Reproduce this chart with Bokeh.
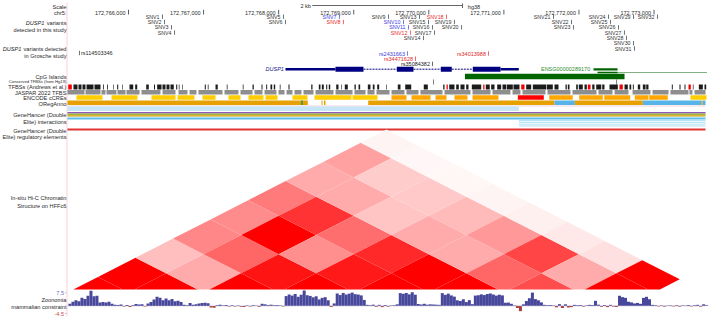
from bokeh.plotting import figure
from bokeh.models import Range1d
from bokeh.core.properties import value
from bokeh.embed import file_html
from bokeh.resources import INLINE

# ---------- data (genomic positions are bp offsets from 172,766,000 on chr5) ----------
CHR_ORIGIN = 172766000
TICK_POS = [172766000, 172767000, 172768000, 172769000, 172770000, 172771000, 172772000, 172773000]
TICK_LABELS = ["172,766,000", "172,767,000", "172,768,000", "172,769,000",
               "172,770,000", "172,771,000", "172,772,000", "172,773,000"]

SNV_NAMES = ["SNV1", "SNV2", "SNV3", "SNV4", "SNV5", "SNV6", "SNV7", "SNV8", "SNV9", "SNV10", "SNV11",
             "SNV12", "SNV13", "SNV14", "SNV15", "SNV16", "SNV17", "SNV18", "SNV19", "SNV20", "SNV21",
             "SNV22", "SNV23", "SNV24", "SNV25", "SNV26", "SNV27", "SNV28", "SNV29", "SNV30", "SNV31", "SNV32"]
SNV_POS = [453, 480, 573, 613, 2064, 2091, 2810, 2863, 3463, 3663, 3730,
           3756, 3876, 3929, 3996, 4049, 4076, 4236, 4342, 4436, 5661,
           5901, 5927, 6394, 6420, 6527, 6606, 6633, 6727, 6727, 6740, 7046]
SNV_ROW = [0, 1, 2, 3, 0, 1, 0, 1, 0, 1, 2,
           3, 0, 4, 1, 2, 3, 0, 1, 2, 0,
           1, 2, 0, 1, 2, 3, 4, 0, 5, 6, 0]
SNV_BLUE = ["SNV7", "SNV10", "SNV11"]
SNV_RED = ["SNV8", "SNV12", "SNV18"]

RS_NAMES = ["rs2431663", "rs34471628", "rs35084382", "rs34013988"]
RS_POS = [3716, 3823, 4049, 4795]
RS_ROW = [0, 1, 2, 0]
RS_COLORS = ["#3c3ce0", "#e02828", "#222222", "#e02828"]
RS_LEFT_NAME = "rs114503346"
RS_LEFT_POS = -653

GENE_UTR = [(2091, 2757), (4955, 5199)]
GENE_EXON = [(2757, 3130), (3574, 3796), (4160, 4306), (4586, 4955)]
GENE_INTRON = [(3130, 3574), (3796, 4160), (4306, 4586)]
ENSG_EXON = [(6194, 6514)]
ENSG_LOWER = [(6247, 6514)]
ENSG_INTRON = [(6514, 7699)]
CPG = [(4482, 6607)]
CONSERVED = [4063, 6501]

TFBS_BLACK = [(-733, -679), (-666, -626), (-613, -573), (-559, -466), (-453, -373), (-340, -329), (-284, -273),
              (-204, -196), (-151, -137), (-84, -76), (13, 63), (89, 116), (236, 270), (340, 353), (382, 440),
              (453, 493), (506, 546), (559, 603), (635, 649), (670, 679), (715, 723), (1016, 1030), (1056, 1066),
              (1159, 1189), (1309, 1319), (1522, 1532), (1652, 1669), (1772, 1785), (1834, 1847), (1891, 1914),
              (1935, 1954), (2015, 2025), (2131, 2145), (2434, 2451), (2535, 2557), (2575, 2601), (2633, 2647),
              (2668, 2687), (2767, 2797), (2833, 2841), (2881, 2921), (3010, 3028), (3064, 3086), (3188, 3223),
              (3254, 3277), (3313, 3339), (3433, 3441), (3587, 3623), (3686, 3766), (3933, 3987), (4192, 4209),
              (4272, 4342), (4365, 4400), (4422, 4476), (4498, 4529), (4573, 4698), (4759, 4812), (4831, 4875),
              (4911, 4964), (4982, 5031), (5039, 5119), (5128, 5208), (5297, 5364), (5386, 5564), (5572, 5652),
              (5674, 5728), (5821, 5838), (5852, 5874), (5963, 5985), (5998, 6051), (6074, 6105), (6177, 6207),
              (6230, 6297), (6310, 6340), (6407, 6518), (6607, 6651), (6673, 6696), (6718, 6731), (6784, 6816),
              (6851, 6887), (6896, 6926), (7237, 7250), (7339, 7353), (7406, 7419), (7517, 7526), (7597, 7650),
              (7672, 7695)]
TFBS_RED = [(-803, -755), (4236, 4253), (4725, 4742), (5231, 5275), (6118, 6154), (6540, 6584), (7459, 7490)]
JASPAR = [(-813, -586), (-573, -373), (-360, -306), (-293, -160), (-147, -40), (-27, 147), (173, 426), (453, 626),
          (666, 786), (813, 906), (932, 1252), (1279, 1465), (1492, 1652), (1678, 1785), (1812, 1971), (1998, 2078),
          (2105, 2184), (2211, 2304), (2331, 2464), (2491, 2731), (2757, 2984), (3010, 3157), (3183, 3277),
          (3303, 3477), (3503, 3676), (3703, 3863), (3889, 4182), (4209, 4555), (4582, 4822), (4848, 5088),
          (5115, 5221), (5248, 5554), (5581, 5887), (5914, 6234), (6260, 6447), (6474, 6660), (6714, 6953),
          (6980, 7193), (7219, 7459), (7472, 7512), (7539, 7686)]

CCRE_ENH_DIST = [(-693, -346), (-226, 120), (306, 626), (653, 879), (986, 1159), (1332, 1492), (1598, 1798),
                 (1825, 1985), (2184, 2384), (2478, 2970), (2984, 3317), (7486, 7699)]
CCRE_ENH_PROX = [(3503, 3703), (3770, 4023), (4089, 4236), (4342, 4515), (4582, 4928), (5604, 5918),
                 (6003, 6318), (6337, 6683), (6744, 6926), (6936, 7183)]
CCRE_PROM = [(5186, 5532)]

OREG_ORANGE = [(-813, 2388), (2571, 2585), (2604, 2624), (3193, 5674), (5945, 6851), (7628, 7648)]
OREG_BLUE = [(5674, 5945), (6851, 7628), (7648, 7686)]
OREG_GREEN = [(2300, 2322)]

# Hi-C contact intensity, 1 kb bins starting at 172,765,000 (upper triangle only)
HIC_BIN_START = 172765000
HIC_BIN = 1000
HIC = [
    [1.00, 1.00, 0.25, 0.47, 0.45, 0.52, 0.33, 0.37, 0.045],
    [None, 1.00, 0.33, 0.60, 1.00, 0.80, 0.33, 0.20, 0.03],
    [None, None, 1.00, 0.92, 0.44, 0.57, 0.23, 0.21, 0.035],
    [None, None, None, 1.00, 0.90, 0.84, 0.33, 0.27, 0.045],
    [None, None, None, None, 1.00, 1.00, 0.33, 0.40, 0.06],
    [None, None, None, None, None, 1.00, 0.60, 0.73, 0.09],
    [None, None, None, None, None, None, 0.70, 0.33, 0.12],
    [None, None, None, None, None, None, None, 1.00, 1.00],
]

# Zoonomia constraint score, 40 bp display bins
ZOO_START = -800
ZOO_BIN = 40
ZOO = [1.2, 2.4, 3.2, 2.6, 4.6, 3.9, 5.8, 8.7, 5.5, 5.8, 2.0, 2.3, 1.9, 2.4, 1.2, 0.6, 0.5, 0.8, -0.3, 0.5, -0.6,
       0.4, 1.1, 0.8, 1.0, -0.4, 1.4, 2.2, 3.6, 5.2, 4.6, 3.2, 4.2, 3.3, 4.0, 2.6, 2.9, 2.2, 0.7, 0.4, 1.6, 0.7,
       1.0, 1.4, 1.6, 1.8, 1.5, -0.9, -1.0, 0.4, 0.7, 0.3, 0.5, -0.3, 0.4, -0.3, 0.3, -0.5, -0.6, 0.3, -0.4, 0.4,
       0.2, -0.5, 1.2, 0.9, 0.5, 0.7, 0.4, 0.5, 0.3, -0.3, 5.6, 6.5, 5.9, 6.8, 5.2, 6.4, 8.8, 6.1, 5.7, 4.9, 5.5,
       3.7, 4.6, 5.0, 3.2, -0.6, 1.4, 7.1, 6.2, 7.4, 6.5, 7.0, 7.6, 6.7, 6.5, 6.0, 3.4, 0.6, 0.4, 0.7, -0.5, 0.6,
       -0.7, 0.5, -0.4, 0.3, 0.4, 0.9, 7.3, 6.9, 7.4, 6.6, 7.8, 6.4, 1.1, 0.8, 1.2, 0.7, 0.9, 0.8, 0.7, 0.6, 7.3,
       6.3, 7.0, 6.0, 5.3, 3.2, 2.8, 3.8, 2.2, 3.3, 1.0, 5.9, 6.1, 6.6, 6.2, 6.8, 7.1, 6.5, 5.9, 6.4, 6.0, 1.8,
       1.9, 1.2, 0.3, -1.2, -3.0, 0.9, 2.8, 4.4, 7.6, 3.9, 3.2, 2.0, 0.6, 0.4, 0.5, 0.3, -0.8, 1.0, -1.2, 0.9,
       -0.9, -0.7, 0.6, 0.4, 0.5, -0.4, 0.3, 0.6, 0.5, 2.9, 0.7, -0.5, 0.5, -0.7, 0.6, -0.4, -0.6, 5.8, 5.0, 4.6,
       2.4, 2.0, 1.4, 1.7, 1.2, 4.6, 5.2, 3.8, 0.6, 0.4, -0.3, 0.3, -0.4, 0.2, 0.3, -0.3, 0.4, -0.4, 0.3, 0.2, 0.5,
       -0.3, 0.4, 0.6, -0.4, 0.9, 0.4]

LEFT_LABELS = ["Scale", "chr5:", "detected in this study", "in Grosche study", "CpG Islands",
               "TFBSs (Andrews et al.)", "JASPAR 2022 TFBS", "ENCODE cCREs", "ORegAnno",
               "GeneHancer (Double", "Elite) interactions", "GeneHancer (Double", "Elite) regulatory elements",
               "In-situ Hi-C Chromatin", "Structure on HFFc6", "Zoonomia", "mammalian constraint"]

# ---------- layout ----------
W, H = 709, 317
BP_PER_PX = 13.32
X0 = CHR_ORIGIN - 128 * BP_PER_PX
X1 = X0 + W * BP_PER_PX
WIN_L, WIN_R = CHR_ORIGIN - 813, CHR_ORIGIN + 7686
FONT = value("Liberation Sans")


def px(v):
    """horizontal page position -> genome coordinate"""
    return X0 + v * BP_PER_PX


p = figure(width=W, height=H, x_range=Range1d(X0, X1), y_range=Range1d(317, 0),
           x_axis_type=None, y_axis_type=None, toolbar_location=None, output_backend="svg",
           min_border=0, outline_line_color=None, background_fill_color="white", border_fill_color="white")
p.grid.visible = False


def label(xs, ys, texts, align="left", size="5.5px", color="#2a2a2a", style="normal", offset=0):
    p.text(xs, ys, text=texts, text_align=align, text_baseline="middle", text_font=FONT,
           text_font_size=value(size), text_color=color, text_font_style=style, x_offset=offset)


def bars(intervals, top, bottom, color, alpha=1.0):
    p.quad(left=[CHR_ORIGIN + a for a, b in intervals], right=[CHR_ORIGIN + b for a, b in intervals],
           top=[top] * len(intervals), bottom=[bottom] * len(intervals),
           fill_color=color, fill_alpha=alpha, line_color=None)


# pink guide at the left of the tracks
p.segment([px(66.5)], [2], [px(66.5)], [316], line_color="#ffd0d4", line_width=1)

# scale row
p.segment([CHR_ORIGIN + 2449], [5], [CHR_ORIGIN + 4449], [5], line_color="#666666", line_width=1)
p.segment([CHR_ORIGIN + 4449], [3], [CHR_ORIGIN + 4449], [7.5], line_color="#666666", line_width=1)
label([CHR_ORIGIN + 2430], [5.2], ["2 kb"], align="right")
label([CHR_ORIGIN + 4520], [6], ["hg38"])

# coordinate ticks
label(TICK_POS, [12] * 8, TICK_LABELS, align="right", offset=-3)
p.segment(TICK_POS, [9.3] * 8, TICK_POS, [14] * 8, line_color="#333333", line_width=0.8)

# SNV rows
row_y = lambda r: 16.2 + 5.3 * r
for names, color in ((SNV_BLUE, "#3c3ce0"), (SNV_RED, "#e82828"),
                     ([n for n in SNV_NAMES if n not in SNV_BLUE + SNV_RED], "#333333")):
    idx = [SNV_NAMES.index(n) for n in names]
    xs = [CHR_ORIGIN + SNV_POS[i] for i in idx]
    ys = [row_y(SNV_ROW[i]) for i in idx]
    label(xs, ys, names, align="right", color=color, offset=-3, size="5.3px")
    p.segment(xs, [y - 2.2 for y in ys], xs, [y + 2.2 for y in ys], line_color=color, line_width=0.7)

# Grosche variants
for n, pos, r, c in zip(RS_NAMES, RS_POS, RS_ROW, RS_COLORS):
    y = 53 + 5.2 * r
    label([CHR_ORIGIN + pos], [y], [n], align="right", color=c, offset=-2.5)
    p.segment([CHR_ORIGIN + pos], [y - 2.2], [CHR_ORIGIN + pos], [y + 2.2], line_color=c, line_width=0.7)
label([CHR_ORIGIN + RS_LEFT_POS], [52.5], [RS_LEFT_NAME], offset=1.5)
p.segment([CHR_ORIGIN + RS_LEFT_POS], [50.3], [CHR_ORIGIN + RS_LEFT_POS], [54.7], line_color="#333333", line_width=0.7)

# DUSP1 gene
NAVY = "#000080"
p.segment([CHR_ORIGIN + a for a, b in GENE_INTRON], [68.7] * 3, [CHR_ORIGIN + b for a, b in GENE_INTRON], [68.7] * 3,
          line_color=NAVY, line_width=1, line_dash="2 1")
bars(GENE_UTR, 67.5, 70, NAVY)
bars(GENE_EXON, 66.2, 71.2, NAVY)
label([CHR_ORIGIN + 2070], [68.6], ["DUSP1"], align="right", color="#20208c", style="italic")

# ENSG transcript and CpG island
GREEN = "#006400"
bars(ENSG_EXON, 67.7, 70, GREEN)
label([CHR_ORIGIN + 6150], [68.6], ["ENSG00000289170"], align="right", color="#2e8b2e")
bars(ENSG_LOWER, 71.2, 72.8, GREEN)
p.segment([CHR_ORIGIN + ENSG_INTRON[0][0]], [72], [CHR_ORIGIN + ENSG_INTRON[0][1]], [72],
          line_color=GREEN, line_width=1, line_dash="1 1")
bars(CPG, 73.3, 78.7, GREEN)

# conserved TFBS marks
xs = [CHR_ORIGIN + c for c in CONSERVED]
p.segment(xs, [79] * 2, xs, [84] * 2, line_color="#444444", line_width=0.7)

# barcode style tracks
bars(TFBS_BLACK, 84, 89, "#1c1c1c")
bars(TFBS_RED, 84, 89, "#f00000")
bars(JASPAR, 89.5, 94, "#8e8e8e")
bars(CCRE_ENH_DIST, 94.7, 99.3, "#ffcd00")
bars(CCRE_ENH_PROX, 94.7, 99.3, "#ffa700")
bars(CCRE_PROM, 94.7, 99.3, "#ff0000")
bars(OREG_ORANGE, 100, 104.6, "#e6a000")
bars(OREG_BLUE, 100, 104.6, "#56b4e9")
bars(OREG_GREEN, 100, 104.6, "#2f9a5a")

# GeneHancer bands
win = [(WIN_L - CHR_ORIGIN, WIN_R - CHR_ORIGIN)]
bars(win, 105, 106, "#f0d4dc")
bars([(WIN_L - CHR_ORIGIN, 5199)], 106, 110.6, "#c4e6f8")
bars(win, 111.4, 113, "#8e5ab5")
bars(win, 113, 114.5, "#9ab548")
bars(win, 114.5, 116.3, "#e3b32a")
bars(win, 116.3, 117.2, "#b0e0f6")
bars(win, 117.2, 119, "#5cc0ee")
for y in (119.6, 121.4, 123.2, 125):
    bars([(5199, WIN_R - CHR_ORIGIN)], y, y + 1.1, "#b4e2f8")
bars(win, 128, 130, "#e03434")

# Hi-C triangle: each contact is a diamond between two 1 kb bins, clipped to the window
BASE_Y, Y_PER_KB, CLIP_Y = 292.0, 19.17, 289.0


def clip_bottom(pts):
    out = []
    for i, (x, y) in enumerate(pts):
        nx, ny = pts[(i + 1) % len(pts)]
        if y <= CLIP_Y:
            out.append((x, y))
        if (y <= CLIP_Y) != (ny <= CLIP_Y):
            t = (CLIP_Y - y) / (ny - y)
            out.append((x + t * (nx - x), CLIP_Y))
    return out


hx, hy, hc = [], [], []
for i, row in enumerate(HIC):
    for j, v in enumerate(row):
        if v is None:
            continue
        a0 = max(HIC_BIN_START + i * HIC_BIN, WIN_L)
        a1 = HIC_BIN_START + (i + 1) * HIC_BIN
        b0 = max(HIC_BIN_START + j * HIC_BIN, WIN_L)
        b1 = min(HIC_BIN_START + (j + 1) * HIC_BIN, WIN_R)
        corners = [(a0, b0), (a0, b1), (a1, b1), (a1, b0)]
        pts = clip_bottom([((g1 + g2) / 2, BASE_Y - Y_PER_KB * (g2 - g1) / 1000) for g1, g2 in corners])
        hx.append([q[0] for q in pts])
        hy.append([q[1] for q in pts])
        g = int(round(255 * (1 - v)))
        hc.append(f"#ff{g:02x}{g:02x}")
p.patches(hx, hy, fill_color=hc, line_color=None)

# Zoonomia wiggle
ZOO_BASE, ZOO_SCALE = 305.4, 1.75
zl = [CHR_ORIGIN + ZOO_START + i * ZOO_BIN for i in range(len(ZOO))]
zr = [v + ZOO_BIN for v in zl]
zt = [ZOO_BASE - max(v, 0) * ZOO_SCALE for v in ZOO]
zb = [ZOO_BASE - min(v, 0) * ZOO_SCALE for v in ZOO]
zc = ["#47479c" if v >= 0 else "#a83a3a" for v in ZOO]
p.quad(left=zl, right=zr, top=zt, bottom=zb, fill_color=zc, line_color=None)
p.segment([WIN_L], [ZOO_BASE], [WIN_R], [ZOO_BASE], line_color="#b0a0c0", line_width=0.5)

# left hand labels
LEFT_Y = [6.5, 12, 29, 55, 76.4, 86.7, 92, 97.3, 103, 114.3, 121.3, 130, 136.7, 197.7, 205, 299.5, 306]
LX = px(66)
label([LX] * len(LEFT_LABELS), LEFT_Y, LEFT_LABELS, align="right", size="5.65px")
label([LX], [80.8], ["Conserved TFBSs (from Hg19)"], align="right", size="4.2px")
label([LX], [22], ["variants"], align="right", size="5.65px")
label([px(44)], [22], ["DUSP1"], align="right", style="italic", size="5.65px")
label([LX], [48], ["variants detected"], align="right", size="5.65px")
label([px(21)], [48], ["DUSP1"], align="right", style="italic", size="5.65px")
label([px(63.5)], [292.3], ["7.5"], align="right", color="#6a6ac0")
label([px(63.5)], [313], ["-4.5"], align="right", color="#c84848")
p.segment([px(64.5)] * 2, [292.3, 313], [px(66)] * 2, [292.3, 313], line_color="#8a8ac8", line_width=0.6)

open("out.html", "w").write(file_html(p, INLINE))
